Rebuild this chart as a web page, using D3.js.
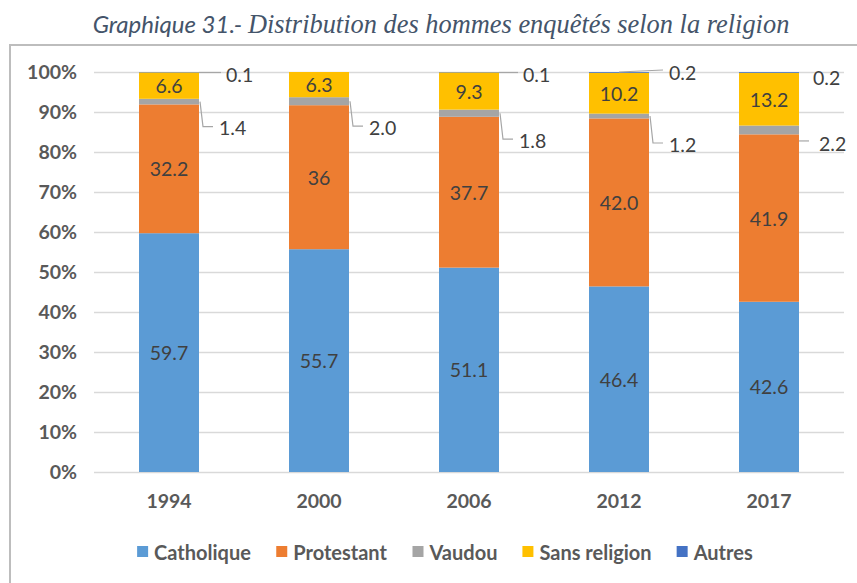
<!DOCTYPE html>
<html lang="fr">
<head>
<meta charset="utf-8">
<script src="https://cdn.jsdelivr.net/npm/d3@7"></script>
<style>
  html, body { margin: 0; padding: 0; background: #ffffff; }
  svg { display: block; }
</style>
</head>
<body>
<svg id="chart" width="857" height="583"></svg>
<script>
// Survey years
const years = ["1994", "2000", "2006", "2012", "2017"];

// Share of men by religion (%), as printed on the labels
const catholique   = ["59.7", "55.7", "51.1", "46.4", "42.6"];
const protestant   = ["32.2", "36",   "37.7", "42.0", "41.9"];
const vaudou       = ["1.4",  "2.0",  "1.8",  "1.2",  "2.2"];
const sansReligion = ["6.6",  "6.3",  "9.3",  "10.2", "13.2"];
const autres       = ["0.1",  "0",    "0.1",  "0.2",  "0.2"];

const seriesNames = ["Catholique", "Protestant", "Vaudou", "Sans religion", "Autres"];
const seriesColors = ["#5B9BD5", "#ED7D31", "#A5A5A5", "#FFC000", "#4472C4"];
const yTicks = [0, 0.1, 0.2, 0.3, 0.4, 0.5, 0.6, 0.7, 0.8, 0.9, 1];

const seriesLabels = [catholique, protestant, vaudou, sansReligion, autres];

// Placement of the outside labels for the two thin segments
const vaudouLabelDy = [26, 26, 27, 28, 14];
const vaudouLeader = ["elbow", "elbow", "elbow", "elbow", "short"];
const autresLabelDx = [27, 0, 24, 20, 14];
const autresLabelDy = [2.5, 0, 2, 0.5, 5];
const autresLeader = ["flat", null, "flat", "diag", null];

const svg = d3.select("#chart");
const labelFont = "Lato, 'Open Sans', sans-serif";
const axisColor = "#595959";
const valueColor = "#404040";

// Chart frame
svg.append("rect")
  .attr("x", 10).attr("y", 45)
  .attr("width", 900).attr("height", 600)
  .attr("fill", "none")
  .attr("stroke", "#bdbdbd")
  .attr("stroke-width", 2);

// Title: sans-serif prefix followed by a serif italic heading
const title = svg.append("text")
  .attr("x", 441).attr("y", 33)
  .attr("text-anchor", "middle")
  .attr("fill", "#44546A")
  .style("font-style", "italic");
title.append("tspan")
  .style("font-family", labelFont)
  .style("font-size", "24px")
  .text("Graphique 31.- ");
title.append("tspan")
  .style("font-family", "'Liberation Serif', 'Times New Roman', serif")
  .style("font-size", "26.4px")
  .text("Distribution des hommes enquêtés selon la religion");

// Rows for stacking
const rows = years.map((yr, i) => {
  const r = { year: yr };
  seriesNames.forEach((name, s) => { r[name] = +seriesLabels[s][i]; });
  return r;
});

const stacked = d3.stack().keys(seriesNames).offset(d3.stackOffsetExpand)(rows);

const x = d3.scaleBand().domain(years).range([94, 844]).paddingInner(0.6).paddingOuter(0.3);
const y = d3.scaleLinear().domain([0, 1]).range([472, 72]);
const color = d3.scaleOrdinal().domain(seriesNames).range(seriesColors);

// Gridlines and percentage ticks
const yAxis = svg.append("g")
  .attr("transform", `translate(${x.range()[0]},0)`)
  .call(d3.axisLeft(y)
    .tickValues(yTicks)
    .tickSize(-(x.range()[1] - x.range()[0]))
    .tickPadding(17)
    .tickFormat(d3.format(".0%")));
yAxis.select(".domain").remove();
yAxis.selectAll(".tick line").attr("stroke", "#d9d9d9").attr("stroke-width", 1.3);
yAxis.selectAll(".tick text")
  .attr("fill", axisColor)
  .style("font-family", labelFont)
  .style("font-weight", "bold")
  .style("font-size", "19.5px");

// Year labels
const xAxis = svg.append("g")
  .attr("transform", `translate(0,${y(0)})`)
  .call(d3.axisBottom(x).tickSize(0).tickPadding(22));
xAxis.select(".domain").remove();
xAxis.selectAll(".tick text")
  .attr("fill", axisColor)
  .style("font-family", labelFont)
  .style("font-weight", "bold")
  .style("font-size", "19.5px");

// Stacked bars
const layers = svg.append("g").selectAll("g")
  .data(stacked)
  .join("g")
  .attr("fill", d => color(d.key));

layers.selectAll("rect")
  .data(d => d)
  .join("rect")
  .attr("x", d => x(d.data.year))
  .attr("width", x.bandwidth())
  .attr("y", d => y(d[1]))
  .attr("height", d => y(d[0]) - y(d[1]));

const labels = svg.append("g")
  .style("font-family", labelFont)
  .style("font-size", "19.5px")
  .attr("fill", valueColor);

// Labels centred inside the larger segments
[0, 1, 3].forEach(s => {
  stacked[s].forEach((d, i) => {
    labels.append("text")
      .attr("x", x(d.data.year) + x.bandwidth() / 2)
      .attr("y", (y(d[0]) + y(d[1])) / 2)
      .attr("text-anchor", "middle")
      .attr("dominant-baseline", "central")
      .text(seriesLabels[s][i]);
  });
});

const leaders = svg.append("g")
  .attr("fill", "none")
  .attr("stroke", "#a6a6a6")
  .attr("stroke-width", 1.2);

// Vaudou: labels to the right, below the segment, with leader lines
stacked[2].forEach((d, i) => {
  const right = x(d.data.year) + x.bandwidth();
  const mid = (y(d[0]) + y(d[1])) / 2;
  const ly = mid + vaudouLabelDy[i];
  labels.append("text")
    .attr("x", right + 20)
    .attr("y", ly)
    .attr("dominant-baseline", "central")
    .text(vaudou[i]);
  if (vaudouLeader[i] === "elbow") {
    leaders.append("path")
      .attr("d", d3.line()([[right + 1, mid], [right + 4, ly - 1], [right + 14, ly - 1]]));
  } else if (vaudouLeader[i] === "short") {
    leaders.append("path")
      .attr("d", d3.line()([[right, ly - 3], [right + 10, ly - 3]]));
  }
});

// Autres: labels beside the top of each bar
stacked[4].forEach((d, i) => {
  if (+autres[i] === 0) return;
  const left = x(d.data.year);
  const right = left + x.bandwidth();
  const top = y(d[1]);
  const ly = top + autresLabelDy[i];
  labels.append("text")
    .attr("x", right + autresLabelDx[i])
    .attr("y", ly)
    .attr("dominant-baseline", "central")
    .text(autres[i]);
  if (autresLeader[i] === "flat") {
    leaders.append("path")
      .attr("d", d3.line()([[right, top + 0.5], [right + autresLabelDx[i] - 5, top + 0.5]]));
  } else if (autresLeader[i] === "diag") {
    leaders.append("path")
      .attr("d", d3.line()([[left + x.bandwidth() / 2, top], [right + autresLabelDx[i] - 6, top - 2]]));
  }
});

// Legend, centred under the plot
const legend = svg.append("g")
  .style("font-family", labelFont)
  .style("font-weight", "bold")
  .style("font-size", "20px");
const items = legend.selectAll("g")
  .data(seriesNames)
  .join("g");
items.append("rect")
  .attr("width", 11).attr("height", 11)
  .attr("y", -6)
  .attr("fill", d => color(d));
items.append("text")
  .attr("x", 17)
  .attr("dominant-baseline", "central")
  .attr("fill", axisColor)
  .text(d => d);
let cursor = 0;
items.each(function () {
  const w = this.getBBox().width;
  this.__x = cursor;
  cursor += w + 25;
});
const legendWidth = cursor - 25;
const legendLeft = 445 - legendWidth / 2;
items.attr("transform", function () { return `translate(${legendLeft + this.__x},552)`; });
</script>
</body>
</html>
